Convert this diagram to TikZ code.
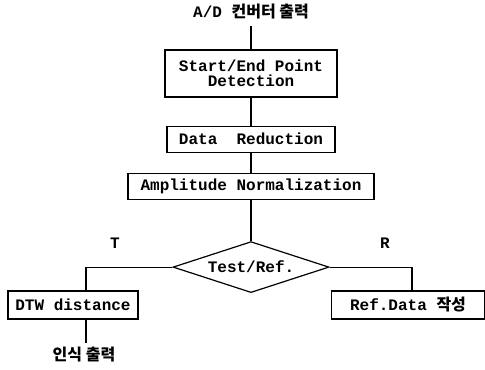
\documentclass[tikz,border=0pt]{standalone}
\usepackage{fontspec}
\setmainfont{Liberation Mono}
\newfontfamily\krfont{Noto Sans CJK KR}
\usetikzlibrary{positioning,shapes.geometric}

\begin{document}
\begin{tikzpicture}[
  font=\fontsize{8}{7.5}\selectfont\bfseries,
  box/.style={draw, semithick, align=center, inner sep=2pt,
              minimum height=13pt},
  decide/.style={draw, semithick, diamond, aspect=3, inner sep=0pt,
                 minimum width=78pt, minimum height=25.5pt},
  plain/.style={inner sep=3pt},
  link/.style={semithick}
]
\useasboundingbox (0,0) rectangle (242.5pt,-184.5pt);

\node[plain] (adc) at (125.5pt,-6pt) {A/D {\krfont 컨버터 출력}};
\node[box, minimum width=86pt, minimum height=23.5pt]
     at (125.5pt,-36.75pt) (detect) {Start/End Point\\Detection};
\node[box, minimum width=84pt, below=14pt of detect] (reduce) {Data\ \ Reduction};
\node[box, minimum width=123pt, below=10pt of reduce] (norm) {Amplitude Normalization};
\node[decide, below=20.5pt of norm] (testref) {Test/Ref.};
\node[box, minimum width=65pt, minimum height=14pt]
     at (36.5pt,-152.5pt) (dtw) {DTW distance};
\node[box, minimum width=76.5pt, minimum height=14pt]
     at (204pt,-152.5pt) (refdata) {Ref.Data {\krfont 작성}};
\node[plain] at (57.5pt,-121.5pt) (tlbl) {T};
\node[plain] at (192.5pt,-121.5pt) (rlbl) {R};
\node[plain, inner sep=2pt] at (42pt,-177.5pt) (result) {{\krfont 인식 출력}};

\coordinate (dtwtop) at ([xshift=6.5pt]dtw.north);
\coordinate (dtwbot) at ([xshift=6.5pt]dtw.south);
\coordinate (reftop) at ([xshift=2pt]refdata.north);

\draw[link] (adc)--(detect);   \draw[link] (detect)--(reduce);
\draw[link] (reduce)--(norm);  \draw[link] (norm)--(testref);
\draw[link] (testref.west) -| (dtwtop);
\draw[link] (testref.east) -| (reftop);
\draw[link] (dtwbot) -- (dtwbot |- result.north);
\end{tikzpicture}
\end{document}
